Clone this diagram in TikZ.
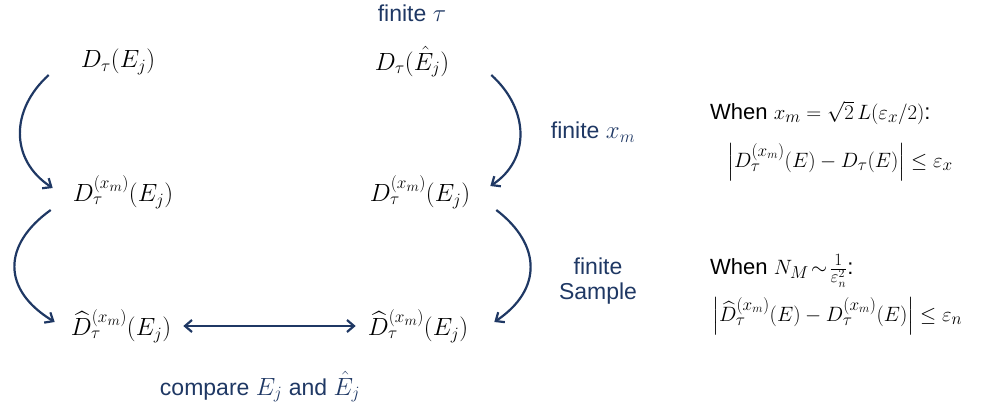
\documentclass[tikz,border=0pt]{standalone}
\usepackage{fontspec}
\setmainfont{Liberation Sans}
\usepackage{amsmath}
\DeclareMathSizes{22}{22}{16.5}{13}
\DeclareMathSizes{23}{23}{17}{13.5}
\usetikzlibrary{arrows.meta,calc}
\definecolor{navy}{RGB}{31,56,100}
\begin{document}
\begin{tikzpicture}[x=1pt,y=-1pt,
  mnode/.style={inner sep=0pt,font=\fontsize{23}{27}\selectfont},
  lbl/.style={inner sep=0pt,text=navy,font=\fontsize{23}{27}\selectfont,align=center},
  rtxt/.style={inner sep=0pt,anchor=west,font=\fontsize{22}{26}\selectfont},
  arr/.style={draw=navy,line width=2.2pt,-{Straight Barb[length=7pt,width=12pt,line width=2.2pt]}},
  darr/.style={draw=navy,line width=2.2pt,{Straight Barb[length=7pt,width=12pt,line width=2.2pt]}-{Straight Barb[length=7pt,width=12pt,line width=2.2pt]}}]
\useasboundingbox (0,0) rectangle (1003,412);
\node[lbl] (t) at (412,13) {finite $\tau$};
\node[mnode] (a1) at (118,62) {$D_\tau(E_j)$};
\node[mnode] (b1) at (412,62) {$D_\tau(\hat{E}_j)$};
\node[mnode] (a2) at (123,192) {$D_\tau^{(x_m)}(E_j)$};
\node[mnode] (b2) at (420,192) {$D_\tau^{(x_m)}(E_j)$};
\node[mnode] (a3) at (121,326) {$\widehat{D}_\tau^{(x_m)}(E_j)$};
\node[mnode] (b3) at (418,326) {$\widehat{D}_\tau^{(x_m)}(E_j)$};
\node[lbl] (cmp) at (260,387) {compare $E_j$ and $\hat{E}_j$};
\node[lbl] (lx) at (593,132) {finite $x_m$};
\node[lbl] (ls) at (598,281) {finite\\[-2pt]Sample};
\node[rtxt] (r1a) at (710,113) {When $x_m=\sqrt{2}\,L(\varepsilon_x/2)$:};
\node[rtxt] (r1b) at (727,162) {$\left|D_\tau^{(x_m)}(E)-D_\tau(E)\right|\le\varepsilon_x$};
\node[rtxt] (r2a) at (710,271) {When $N_M\!\sim\!\tfrac{1}{\varepsilon_n^2}$:};
\node[rtxt] (r2b) at (712,316) {$\left|\widehat{D}_\tau^{(x_m)}(E)-D_\tau^{(x_m)}(E)\right|\le\varepsilon_n$};
\coordinate (s1) at ($(a1.west)+(-32,13)$);
\coordinate (e1) at ($(a2.west)+(-20,-4)$);
\coordinate (s2) at ($(a2.west)+(-22,18)$);
\coordinate (e2) at ($(a3.west)+(-16,-4)$);
\coordinate (s3) at ($(b1.east)+(42,13)$);
\coordinate (e3) at ($(b2.east)+(20,-6)$);
\coordinate (s4) at ($(b2.east)+(26,18)$);
\coordinate (e4) at ($(b3.east)+(26,-4)$);
\draw[arr] (s1) .. controls (10,110) and (10,160) .. (e1);
\draw[arr] (s2) .. controls (2,245) and (2,290) .. (e2);
\draw[arr] (s3) .. controls (530,110) and (530,160) .. (e3);
\draw[arr] (s4) .. controls (542,245) and (542,290) .. (e4);
\draw[darr] ($(a3.east)+(12,0)$) coordinate (d1) -- ($(b3.west)+(-12,0)$) coordinate (d2);
\end{tikzpicture}
\end{document}
